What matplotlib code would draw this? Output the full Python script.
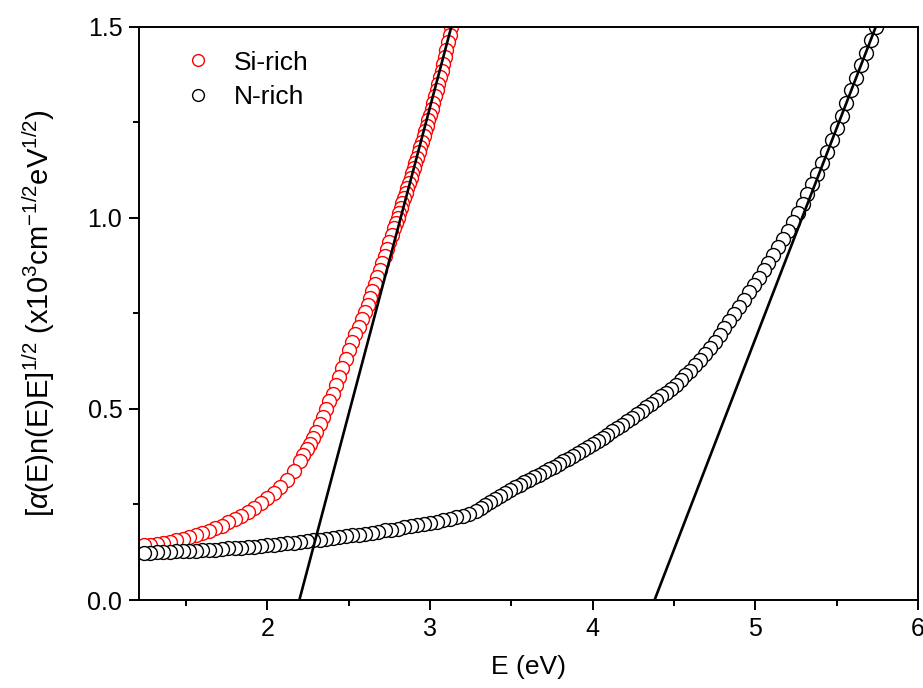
import matplotlib
matplotlib.use("Agg")
import matplotlib.pyplot as plt
from matplotlib.ticker import MultipleLocator, FormatStrFormatter

plt.rcParams['font.family'] = ['Liberation Sans', 'DejaVu Sans']
plt.rcParams['mathtext.fontset'] = 'custom'
plt.rcParams['mathtext.rm'] = 'Liberation Sans'
plt.rcParams['mathtext.it'] = 'Liberation Sans:italic'

# Si-rich film
si_E = [1.24, 1.28, 1.32, 1.36, 1.40, 1.44, 1.48, 1.52, 1.56, 1.60, 1.64, 1.68,
        1.72, 1.76, 1.80, 1.84, 1.88, 1.92, 1.96, 2.00, 2.04, 2.08, 2.12, 2.16,
        2.20, 2.22, 2.24, 2.26, 2.28, 2.30, 2.32, 2.34, 2.36, 2.38, 2.40, 2.42,
        2.44, 2.46, 2.48, 2.50, 2.52, 2.54, 2.56, 2.58,
        2.600, 2.615, 2.630, 2.645, 2.660, 2.675, 2.690, 2.705, 2.720, 2.735,
        2.750, 2.765, 2.780,
        2.79, 2.80, 2.81, 2.82, 2.83, 2.84, 2.85, 2.86, 2.87, 2.88, 2.89, 2.90,
        2.91, 2.92, 2.93, 2.94, 2.95, 2.96, 2.97, 2.98, 2.99, 3.00, 3.01, 3.02,
        3.03, 3.04, 3.05, 3.06, 3.07, 3.08, 3.09, 3.10, 3.11, 3.12, 3.13]
si_y = [0.143, 0.145, 0.147, 0.149, 0.152, 0.156, 0.160, 0.164, 0.169, 0.175, 0.181, 0.188,
        0.195, 0.203, 0.211, 0.221, 0.231, 0.242, 0.254, 0.266, 0.281, 0.297, 0.315, 0.338,
        0.365, 0.379, 0.394, 0.409, 0.424, 0.440, 0.460, 0.480, 0.500, 0.520, 0.540, 0.562,
        0.584, 0.606, 0.630, 0.655, 0.675, 0.695, 0.715, 0.735,
        0.755, 0.773, 0.791, 0.809, 0.827, 0.845, 0.863, 0.881, 0.900, 0.919,
        0.938, 0.956, 0.975,
        0.988, 1.000, 1.013, 1.026, 1.039, 1.052, 1.065, 1.078, 1.091, 1.104, 1.117, 1.130,
        1.144, 1.158, 1.172, 1.186, 1.200, 1.214, 1.228, 1.242, 1.256, 1.270, 1.286, 1.302,
        1.318, 1.334, 1.350, 1.368, 1.386, 1.404, 1.422, 1.440, 1.460, 1.480, 1.500]

# N-rich film
n_E = [1.24, 1.28, 1.32, 1.36, 1.40, 1.44, 1.48, 1.52, 1.56, 1.60, 1.64, 1.68,
       1.72, 1.76, 1.80, 1.84, 1.88, 1.92, 1.96, 2.00, 2.04, 2.08, 2.12, 2.16,
       2.20, 2.24, 2.28, 2.32, 2.36, 2.40, 2.44, 2.48, 2.52, 2.56, 2.60, 2.64,
       2.68, 2.72, 2.76, 2.80, 2.84, 2.88, 2.92, 2.96, 3.00, 3.04, 3.08, 3.12,
       3.16, 3.20, 3.24, 3.28,
       3.31, 3.34, 3.37, 3.40, 3.43, 3.46, 3.49, 3.52, 3.55, 3.58, 3.61, 3.64,
       3.67, 3.70, 3.73, 3.76, 3.79, 3.82, 3.85, 3.88, 3.91, 3.94, 3.97, 4.00,
       4.03, 4.06, 4.09, 4.12, 4.15, 4.18, 4.21, 4.24, 4.27, 4.30, 4.33, 4.36,
       4.39, 4.42, 4.45, 4.48, 4.51,
       4.54, 4.57, 4.60, 4.63, 4.66, 4.69, 4.72, 4.75, 4.78, 4.81, 4.84, 4.87,
       4.90, 4.93, 4.96, 4.99, 5.02, 5.05, 5.08, 5.11, 5.14, 5.17, 5.20, 5.23,
       5.26, 5.29, 5.32, 5.35, 5.38, 5.41, 5.44, 5.47, 5.50, 5.53, 5.56, 5.59,
       5.62, 5.65, 5.68, 5.71, 5.74]
n_y = [0.124, 0.124, 0.125, 0.126, 0.126, 0.127, 0.128, 0.128, 0.129, 0.130, 0.131, 0.132,
       0.133, 0.135, 0.136, 0.137, 0.139, 0.140, 0.141, 0.143, 0.145, 0.146, 0.148, 0.150,
       0.152, 0.154, 0.156, 0.158, 0.160, 0.162, 0.164, 0.167, 0.169, 0.171, 0.174, 0.176,
       0.179, 0.182, 0.184, 0.187, 0.190, 0.193, 0.196, 0.199, 0.202, 0.205, 0.209, 0.212,
       0.216, 0.220, 0.226, 0.232,
       0.240, 0.249, 0.257, 0.265, 0.273, 0.280, 0.288, 0.295, 0.302, 0.309, 0.315, 0.322,
       0.328, 0.335, 0.342, 0.349, 0.356, 0.363, 0.370, 0.377, 0.385, 0.392, 0.400, 0.408,
       0.416, 0.424, 0.433, 0.442, 0.451, 0.459, 0.468, 0.477, 0.486, 0.495, 0.505, 0.514,
       0.524, 0.533, 0.543, 0.553, 0.562,
       0.575, 0.588, 0.600, 0.614, 0.628, 0.643, 0.659, 0.676, 0.693, 0.711, 0.730, 0.748,
       0.767, 0.786, 0.805, 0.824, 0.843, 0.863, 0.883, 0.904, 0.924, 0.945, 0.965, 0.989,
       1.013, 1.037, 1.062, 1.089, 1.116, 1.144, 1.174, 1.204, 1.235, 1.268, 1.301, 1.334,
       1.367, 1.400, 1.433, 1.466, 1.499]

# linear fits (Tauc-like extrapolation)
si_fit_E = [2.196, 3.13]
si_fit_y = [0.0, 1.5]
n_fit_E = [4.38, 5.74]
n_fit_y = [0.0, 1.5]

fig = plt.figure(figsize=(9.23, 6.88), dpi=100)
ax = fig.add_axes([0.1506, 0.1279, 0.8440, 0.8329])

# drawn from high E down to low E, as in the original
ax.plot(si_E[::-1], si_y[::-1], 'o', ms=10, mfc='white', mec='red', mew=1.0,
        linestyle='none', label='Si-rich')
ax.plot(n_E[::-1], n_y[::-1], 'o', ms=10, mfc='white', mec='black', mew=1.0,
        linestyle='none', label='N-rich')
ax.plot(si_fit_E, si_fit_y, color='black', lw=1.9)
ax.plot(n_fit_E, n_fit_y, color='black', lw=1.9)

ax.set_xlim(1.21, 6.0)
ax.set_ylim(0.0, 1.5)
ax.xaxis.set_major_locator(MultipleLocator(1))
ax.xaxis.set_minor_locator(MultipleLocator(0.5))
ax.yaxis.set_major_locator(MultipleLocator(0.5))
ax.yaxis.set_minor_locator(MultipleLocator(0.25))
ax.yaxis.set_major_formatter(FormatStrFormatter('%.1f'))
ax.tick_params(which='major', direction='out', length=7, width=1.4, labelsize=18, pad=5)
ax.tick_params(which='minor', direction='out', length=4, width=1.4)
for s in ax.spines.values():
    s.set_linewidth(1.4)

ax.set_xlabel('E (eV)', fontsize=19, labelpad=10)
ax.set_ylabel(r'[$\alpha$(E)n(E)E]$^{1/2}$ (x10$^{3}$cm$^{-1/2}$eV$^{1/2}$)', fontsize=21, labelpad=22)

leg = ax.legend(loc='upper left', bbox_to_anchor=(0.02, 1.0), frameon=False, fontsize=19,
                handletextpad=0.6, labelspacing=0.4, markerscale=0.85, handlelength=1.5)

fig.savefig('out.png', dpi=100)
